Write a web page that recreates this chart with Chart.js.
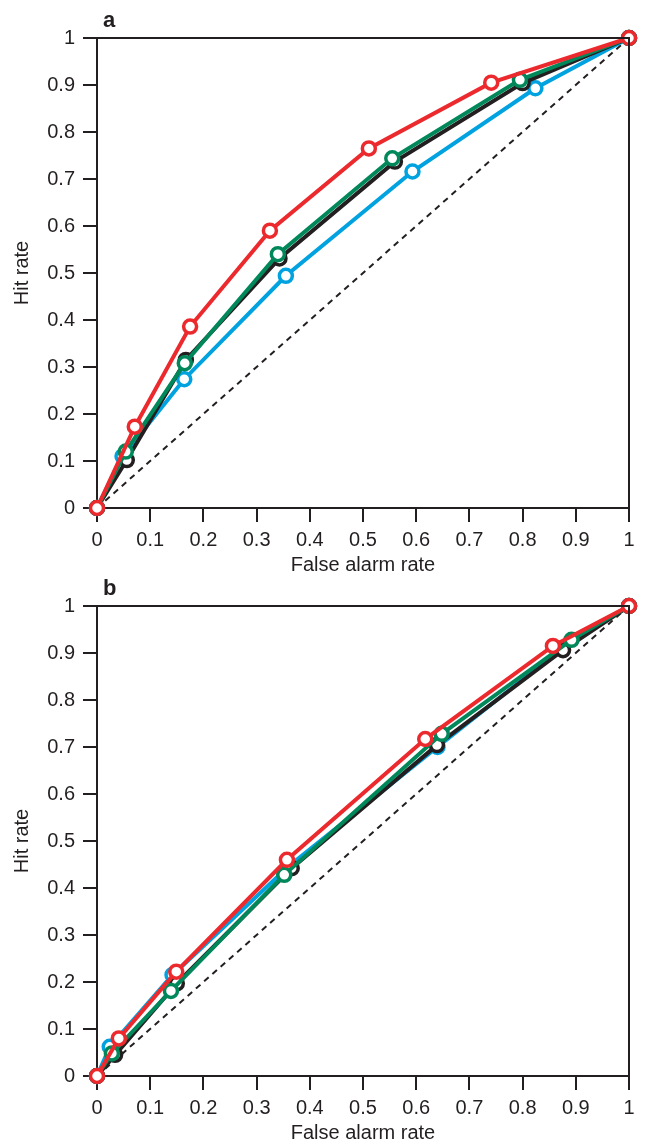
<!DOCTYPE html>
<html>
<head>
<meta charset="utf-8">
<script src="https://cdn.jsdelivr.net/npm/chart.js@4.4.0/dist/chart.umd.min.js"></script>
<style>
  html, body { margin: 0; padding: 0; background: #fff; }
  .panel { position: relative; width: 646px; }
  #wrapA { height: 576px; }
  #wrapB { height: 568px; }
</style>
</head>
<body>
<div class="panel" id="wrapA"><canvas id="chartA"></canvas></div>
<div class="panel" id="wrapB"><canvas id="chartB"></canvas></div>
<script>
// panel a : false alarm rate (x) / hit rate (y)
const aBlackX = [0, 0.056, 0.167, 0.343, 0.560, 0.800, 1];
const aBlackY = [0, 0.102, 0.315, 0.531, 0.737, 0.904, 1];
const aGreenX = [0, 0.054, 0.165, 0.340, 0.555, 0.795, 1];
const aGreenY = [0, 0.120, 0.308, 0.540, 0.744, 0.911, 1];
const aBlueX  = [0, 0.048, 0.164, 0.355, 0.593, 0.824, 1];
const aBlueY  = [0, 0.110, 0.274, 0.494, 0.716, 0.893, 1];
const aRedX   = [0, 0.071, 0.175, 0.325, 0.511, 0.741, 1];
const aRedY   = [0, 0.173, 0.386, 0.590, 0.765, 0.905, 1];

// panel b
const bBlackX = [0, 0.034, 0.150, 0.366, 0.639, 0.876, 1];
const bBlackY = [0, 0.045, 0.197, 0.442, 0.704, 0.906, 1];
const bGreenX = [0, 0.028, 0.139, 0.352, 0.648, 0.892, 1];
const bGreenY = [0, 0.048, 0.181, 0.428, 0.728, 0.928, 1];
const bBlueX  = [0, 0.024, 0.142, 0.362, 0.640, 0.874, 1];
const bBlueY  = [0, 0.062, 0.215, 0.448, 0.700, 0.910, 1];
const bRedX   = [0, 0.041, 0.149, 0.357, 0.617, 0.857, 1];
const bRedY   = [0, 0.080, 0.222, 0.460, 0.717, 0.915, 1];

// no-skill diagonal
const diagX = [0, 1];
const diagY = [0, 1];

const INK = '#231f20';
const FONT = "'Liberation Sans', Arial, Helvetica, sans-serif";

function pts(xs, ys) {
    return xs.map((x, i) => ({ x: x, y: ys[i] }));
}

// higher "order" is drawn first (further back)
function curve(xs, ys, color, order) {
    return {
        data: pts(xs, ys),
        showLine: true,
        order: order,
        borderColor: color,
        borderWidth: 4,
        pointRadius: 6.5,
        pointBorderWidth: 3.5,
        pointBorderColor: color,
        pointBackgroundColor: '#fff',
        clip: false
    };
}

// top + right frame and the panel letter
const framePlugin = {
    id: 'frame',
    afterDraw(chart, args, opts) {
        const { ctx, chartArea } = chart;
        ctx.save();
        ctx.strokeStyle = INK;
        ctx.lineWidth = 2;
        ctx.beginPath();
        ctx.moveTo(chartArea.left, chartArea.top);
        ctx.lineTo(chartArea.right, chartArea.top);
        ctx.lineTo(chartArea.right, chartArea.bottom);
        ctx.stroke();
        ctx.fillStyle = INK;
        ctx.font = "bold 22px " + FONT;
        ctx.textBaseline = 'alphabetic';
        ctx.fillText(opts.letter, chartArea.left + 6, chartArea.top - 11);
        ctx.restore();
    }
};

function makeChart(id, letter, sets, top, xh) {
    const ctx = document.getElementById(id).getContext('2d');
    return new Chart(ctx, {
        type: 'scatter',
        data: {
            datasets: [
                {
                    data: pts(diagX, diagY),
                    showLine: true,
                    order: 10,
                    borderColor: INK,
                    borderWidth: 2,
                    borderDash: [6, 5],
                    pointRadius: 0
                },
                curve(sets[2][0], sets[2][1], '#00a2df', 4),
                curve(sets[0][0], sets[0][1], INK, 3),
                curve(sets[1][0], sets[1][1], '#00875a', 2),
                curve(sets[3][0], sets[3][1], '#ec2a2e', 1)
            ]
        },
        options: {
            responsive: true,
            maintainAspectRatio: false,
            animation: false,
            layout: { padding: { left: 0, right: 17, top: top, bottom: 0 } },
            plugins: {
                legend: { display: false },
                tooltip: { enabled: false },
                frame: { letter: letter }
            },
            scales: {
                x: {
                    type: 'linear',
                    min: 0, max: 1,
                    afterFit: s => { s.height = xh; },
                    border: { display: true, color: INK, width: 2 },
                    grid: { drawOnChartArea: false, drawTicks: true, tickLength: 14, color: INK, lineWidth: 2 },
                    ticks: {
                        stepSize: 0.1, padding: 6, color: INK,
                        font: { family: FONT, size: 20 },
                        maxRotation: 0,
                        callback: v => String(+v.toFixed(1))
                    },
                    title: {
                        display: true, text: 'False alarm rate', color: INK,
                        font: { family: FONT, size: 20, lineHeight: 1.1 },
                        padding: { top: 0, bottom: 0 }
                    }
                },
                y: {
                    type: 'linear',
                    min: 0, max: 1,
                    afterFit: s => { s.width = 97; },
                    border: { display: true, color: INK, width: 2 },
                    grid: { drawOnChartArea: false, drawTicks: true, tickLength: 14, color: INK, lineWidth: 2 },
                    ticks: {
                        stepSize: 0.1, padding: 8, color: INK,
                        font: { family: FONT, size: 20 },
                        callback: v => String(+v.toFixed(1))
                    },
                    title: {
                        display: true, text: 'Hit rate', color: INK,
                        font: { family: FONT, size: 20, lineHeight: 1.1 },
                        padding: { top: 11, bottom: 0 }
                    }
                }
            }
        },
        plugins: [framePlugin]
    });
}

makeChart('chartA', 'a',
    [[aBlackX, aBlackY], [aGreenX, aGreenY], [aBlueX, aBlueY], [aRedX, aRedY]], 38, 68);
makeChart('chartB', 'b',
    [[bBlackX, bBlackY], [bGreenX, bGreenY], [bBlueX, bBlueY], [bRedX, bRedY]], 30, 68);
</script>
</body>
</html>
